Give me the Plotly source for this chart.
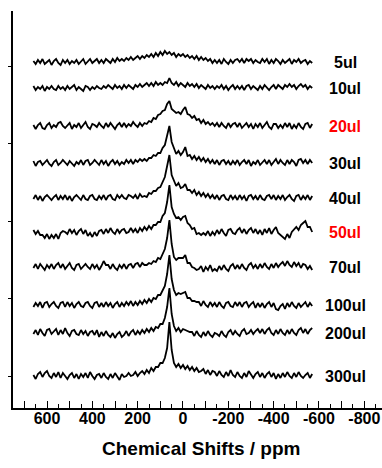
import numpy as np
import plotly.graph_objects as go

# Chemical-shift sampling of the spectra: 660 ... -570 ppm in 10 ppm steps
PPM_START, PPM_STOP, PPM_STEP = 660, -570, 10
ppm = np.arange(PPM_START, PPM_STOP - 1, -PPM_STEP)

sample_labels = ["5ul", "10ul", "20ul", "30ul", "40ul", "50ul", "70ul", "100ul", "200ul", "300ul"]
# vertical stacking offset of each spectrum (arbitrary intensity units)
stack_offsets = [346, 320, 282, 245, 210, 176, 141, 103, 75, 32]

# Intensities (arbitrary units), ten values per row = 100 ppm per row
i_5ul = [
    1, -2, 2, -1, 3, -2, 0, 2, -3, 1,
    3, -1, -3, 2, -1, 2, -2, 1, -1, 2,
    -2, 1, 3, -2, 1, 3, -1, 1, 3, -1,
    2, -1, 3, 1, -1, 3, 0, 4, 1, 3,
    1, 4, 2, 5, 2, 4, 6, 3, 6, 4,
    7, 5, 8, 5, 9, 6, 10, 7, 11, 8,
    10, 7, 9, 5, 8, 6, 8, 5, 7, 4,
    6, 3, 6, 2, 5, 2, 4, 1, 3, -1,
    2, -1, 2, -2, 3, 0, -2, 2, -1, 2,
    3, 0, 3, -1, 3, 1, 3, -1, 2, 0,
    -1, 3, 0, 3, -2, 2, -1, 3, 1, -2,
    2, -1, 1, 3, -2, 2, 0, 3, -1, 1,
    2, -2, 1, -1,
]
i_10ul = [
    2, -2, 1, -1, 2, -3, 1, -1, 2, -1,
    -2, 2, -1, 1, -2, 2, -1, 1, 3, -2,
    1, -1, -3, 2, 1, -2, 1, -1, 2, 0,
    -1, 2, 0, 3, 1, -1, 3, 0, 2, -1,
    3, 0, 3, 1, -1, 3, 1, 4, 1, 3,
    5, 2, 5, 2, 6, 3, 5, 3, 6, 5,
    10, 5, 3, 6, 2, 5, 3, 1, 5, 2,
    4, 1, 4, 0, 3, 1, -1, 3, 0, 2,
    -1, 2, 0, 3, -1, 2, -2, 1, 3, -1,
    2, -1, 2, -2, 2, 3, -1, 2, 0, -2,
    2, -1, 3, 0, -2, 1, 3, -1, 3, 1,
    -1, 3, 1, 4, 1, 3, -1, 2, 4, 1,
    3, -1, 2, 0,
]
i_20ul = [
    1, -3, 1, 3, -2, -3, 1, 3, -2, 1,
    -1, 3, 4, 0, -2, 1, 3, -3, 1, -1,
    3, -2, 1, 4, -1, -3, 2, 1, -1, 3,
    0, -2, 3, -1, 3, 0, -3, 1, 3, -1,
    3, -1, 2, 0, 4, 1, -1, 3, 0, 3,
    2, 5, 4, 8, 7, 11, 12, 15, 16, 22,
    25, 17, 15, 13, 14, 12, 16, 19, 12, 11,
    8, 10, 6, 7, 3, 6, 2, 4, 1, 3,
    0, 3, -1, 3, 0, -2, 3, -1, 2, 3,
    -1, 3, -2, 1, 3, -1, 2, -3, 2, -1,
    3, -2, 1, 4, -1, -3, 2, 2, -2, 1,
    -2, 3, -1, 3, -3, 1, -2, 3, -1, -3,
    2, 3, -2, 2,
]
i_30ul = [
    2, -3, 1, 2, -2, 1, 3, -1, -3, 1,
    3, -2, 0, 3, 0, -2, 2, -1, -3, 1,
    -1, 3, -2, 2, 3, -2, 0, 3, 0, -2,
    3, -1, 2, -3, 1, 3, -1, 2, -2, 1,
    -1, 3, 0, 3, -1, 3, 1, 4, 2, 4,
    2, 5, 5, 8, 7, 10, 10, 15, 18, 27,
    37, 21, 14, 9, 12, 8, 11, 16, 7, 8,
    4, 7, 3, 6, 2, 5, 1, 4, 0, 3,
    -1, 3, -2, 2, 3, -1, 2, -2, 2, -1,
    3, -2, 1, 3, -1, 3, -3, 1, -1, 3,
    -2, 1, 3, -1, 3, -2, 1, 4, -1, 3,
    0, -2, 3, -1, 3, 1, -3, 3, 4, 0,
    3, -1, 3, 0,
]
i_40ul = [
    -1, 3, -2, 2, -3, 1, 3, 0, -2, 1,
    3, -2, 2, -1, 3, -2, 2, -3, 1, 3,
    0, -2, 3, -1, -2, 2, 3, -1, -2, 2,
    -1, 3, -2, 2, 3, -1, -2, 3, 0, 3,
    0, -1, 3, 2, 0, 3, -1, 4, 1, 2,
    1, 5, 4, 7, 7, 10, 11, 17, 21, 32,
    43, 23, 17, 12, 15, 10, 11, 14, 8, 8,
    5, 8, 3, 6, 2, 5, 1, 4, 0, 3,
    -1, 3, -2, 2, 3, -1, -2, 3, -1, 2,
    -2, 3, -1, 2, -3, 2, 3, -1, 2, -2,
    3, -1, -2, 2, 3, -1, 3, -2, 2, -1,
    3, -2, 1, 3, -1, -3, 2, 3, -2, 2,
    -1, 3, -2, 2,
]
i_50ul = [
    2, -2, 1, -3, -3, -6, -2, -7, -3, -6,
    -2, -7, -1, 1, 0, -2, 3, -1, 2, -3,
    1, 3, -2, 2, -4, -1, -5, 0, -4, 1,
    2, -2, 3, -1, 4, 0, -2, 3, -1, 2,
    3, -1, 0, 4, 0, 3, -1, 4, 1, 5,
    2, 6, 3, 7, 7, 10, 10, 16, 19, 30,
    47, 25, 18, 14, 15, 12, 15, 16, 9, 7,
    3, 4, -2, -1, -3, -1, -3, 1, -4, 0,
    -3, 2, -2, 3, -1, -4, 2, 3, -1, -2,
    2, 4, -1, 3, -2, 2, 4, -1, 3, -2,
    2, -3, 3, -1, 4, -2, 2, 5, -1, -3,
    -5, -7, -2, -6, 0, 3, 5, 2, 7, 9,
    11, 5, 5, 0,
]
i_70ul = [
    -1, 3, -2, 3, 0, -3, 2, -1, 3, -2,
    2, 4, -1, 3, -2, 1, 4, -1, -3, 2,
    3, -2, 1, 3, 0, -2, 3, -1, 2, -3,
    1, 6, 2, 2, -2, 3, -1, -3, 2, -1,
    3, -2, 2, 3, -1, 3, 4, 0, 4, 2,
    2, 4, 3, 6, 5, 9, 8, 14, 18, 29,
    47, 23, 10, 7, 9, 9, 9, 12, 4, 4,
    0, -1, -3, -2, 1, -5, 0, -3, 2, -4,
    -2, -4, 1, -3, 2, -2, -4, 1, 3, -2,
    2, -2, 3, -1, -3, 2, 4, -1, 2, -2,
    3, -1, 4, 0, -2, 3, -1, 4, 0, 3,
    5, 1, 6, 2, 0, 5, 1, 4, -1, 3,
    2, -2, 1, -3,
]
i_100ul = [
    -2, 2, -1, 3, -3, 2, 3, -2, 1, 3,
    -1, -3, 2, 3, -2, 3, -1, 2, -3, 1,
    3, -1, -2, 2, 3, -1, -3, 2, 3, -2,
    2, -2, 3, -1, 2, -3, 1, 3, -2, 2,
    -1, 3, 0, 4, -1, 3, 0, 4, 1, 5,
    2, 6, 3, 7, 6, 10, 10, 15, 19, 31,
    50, 26, 15, 10, 12, 11, 12, 13, 7, 7,
    4, 4, 3, 3, -1, 4, 0, -2, 3, -1,
    2, -2, 3, -1, -3, 2, 3, -1, -2, 3,
    -1, 3, -2, 2, 3, -2, 1, 3, -3, 2,
    -2, 2, -3, 1, 3, -2, 2, -4, -5, -1,
    1, -4, 2, -2, 3, -1, -3, 2, -2, 1,
    3, -2, 2, -1,
]
i_200ul = [
    -1, 3, -2, 4, 0, -3, 3, 4, -1, 2,
    4, -2, 3, -1, 5, 0, -3, 2, 3, -1,
    -2, 3, -1, 2, -3, 1, 2, -2, 3, -4,
    1, -3, 2, -2, -4, 0, -5, -1, 1, -4,
    -2, 2, -3, 1, 3, -2, 2, -1, 3, 0,
    4, 1, 5, 2, 6, 5, 9, 9, 15, 26,
    45, 19, 7, 2, 5, 1, 4, 3, 2, 1,
    1, -3, 2, -2, -4, 1, -3, 2, -2, -4,
    0, -1, -3, 2, -2, -4, 1, 3, -2, 2,
    -1, -3, 2, 4, -1, 0, 3, -1, 2, 4,
    0, 4, -1, 3, 5, 0, -2, 3, -1, 4,
    0, -2, 3, -1, 4, 0, -2, 3, 5, 0,
    4, -1, 3, 5,
]
i_300ul = [
    1, -3, 2, 4, -1, 3, 5, 0, -2, 3,
    -1, 4, -2, 3, 0, -3, 1, 3, -2, 2,
    -3, 2, -1, 3, -2, 4, 0, -3, 1, 2,
    -2, 3, -1, -3, 2, -2, 3, -1, -4, 2,
    -1, 0, 3, 0, 1, 4, 0, 3, 5, 2,
    6, 3, 8, 5, 9, 9, 13, 13, 18, 28,
    54, 26, 13, 9, 12, 8, 11, 7, 10, 6,
    9, 5, 8, 4, 5, 7, 2, 6, 1, 5,
    4, 0, 5, 1, -1, 4, 0, 6, 1, -1,
    4, 0, -2, 3, -1, 5, 1, -2, 2, 4,
    -1, 3, -2, 2, 4, -1, 3, -3, 2, -2,
    3, -1, 4, 0, -2, 3, -1, 4, 0, -2,
    1, 3, -2, 2,
]

spectra = [i_5ul, i_10ul, i_20ul, i_30ul, i_40ul, i_50ul, i_70ul, i_100ul, i_200ul, i_300ul]
highlighted = {"20ul", "50ul"}

# axis tick labels (major ticks every 100 ppm, labels every 200 ppm)
tick_values = list(range(700, -801, -100))
tick_text = ["600", "400", "200", "0", "-200", "-400", "-600", "-800"]

X_RANGE = [750, -878]
Y_RANGE = [0, 397]
FONT = "Arial, 'Liberation Sans', sans-serif"

fig = go.Figure()
for label, offset, values in zip(sample_labels, stack_offsets, spectra):
    assert len(values) == len(ppm), label
    fig.add_trace(go.Scatter(
        x=ppm, y=np.asarray(values) + offset, mode="lines",
        line=dict(color="black", width=1.8), hoverinfo="skip", showlegend=False,
    ))
    fig.add_annotation(
        x=-715, y=offset, xref="x", yref="y", text=label, showarrow=False,
        xanchor="center", yanchor="middle",
        font=dict(family=FONT, size=16, weight="bold",
                  color="#ff0000" if label in highlighted else "black"),
    )

labels_by_value = {v: "" for v in tick_values}
for t in tick_text:
    labels_by_value[int(t)] = t

fig.add_annotation(
    x=0.51, y=-0.102, xref="paper", yref="paper", text="Chemical Shifts / ppm",
    showarrow=False, xanchor="center", yanchor="middle",
    font=dict(family=FONT, size=19, weight="bold", color="black"),
)

fig.update_layout(
    width=382, height=468,
    margin=dict(l=13, r=0, t=11, b=60),
    paper_bgcolor="white", plot_bgcolor="white",
    xaxis=dict(
        range=X_RANGE, showgrid=False, zeroline=False,
        showline=True, linecolor="black", linewidth=1.5,
        ticks="inside", ticklen=7, tickwidth=1.2, tickcolor="black",
        tickvals=tick_values, ticktext=[labels_by_value[v] for v in tick_values],
        ticklabelstandoff=-5,
        tickfont=dict(family=FONT, size=16, weight="bold", color="black"),
        minor=dict(dtick=50, tick0=0, ticks="inside", ticklen=4, tickwidth=1.2, tickcolor="black"),
    ),
    xaxis2=dict(
        range=X_RANGE, overlaying="x", side="top", anchor="y",
        showgrid=False, zeroline=False, showline=True, linecolor="black", linewidth=1.5,
        ticks="inside", ticklen=3, tickwidth=1, tickcolor="black",
        tick0=0, dtick=50, showticklabels=False,
    ),
    yaxis=dict(
        range=Y_RANGE, showgrid=False, zeroline=False,
        showline=True, linecolor="black", linewidth=1.5,
        ticks="outside", ticklen=3, tickwidth=1, tickcolor="black",
        tick0=32, dtick=77.5, showticklabels=False,
    ),
)

fig.write_html("out.html")
